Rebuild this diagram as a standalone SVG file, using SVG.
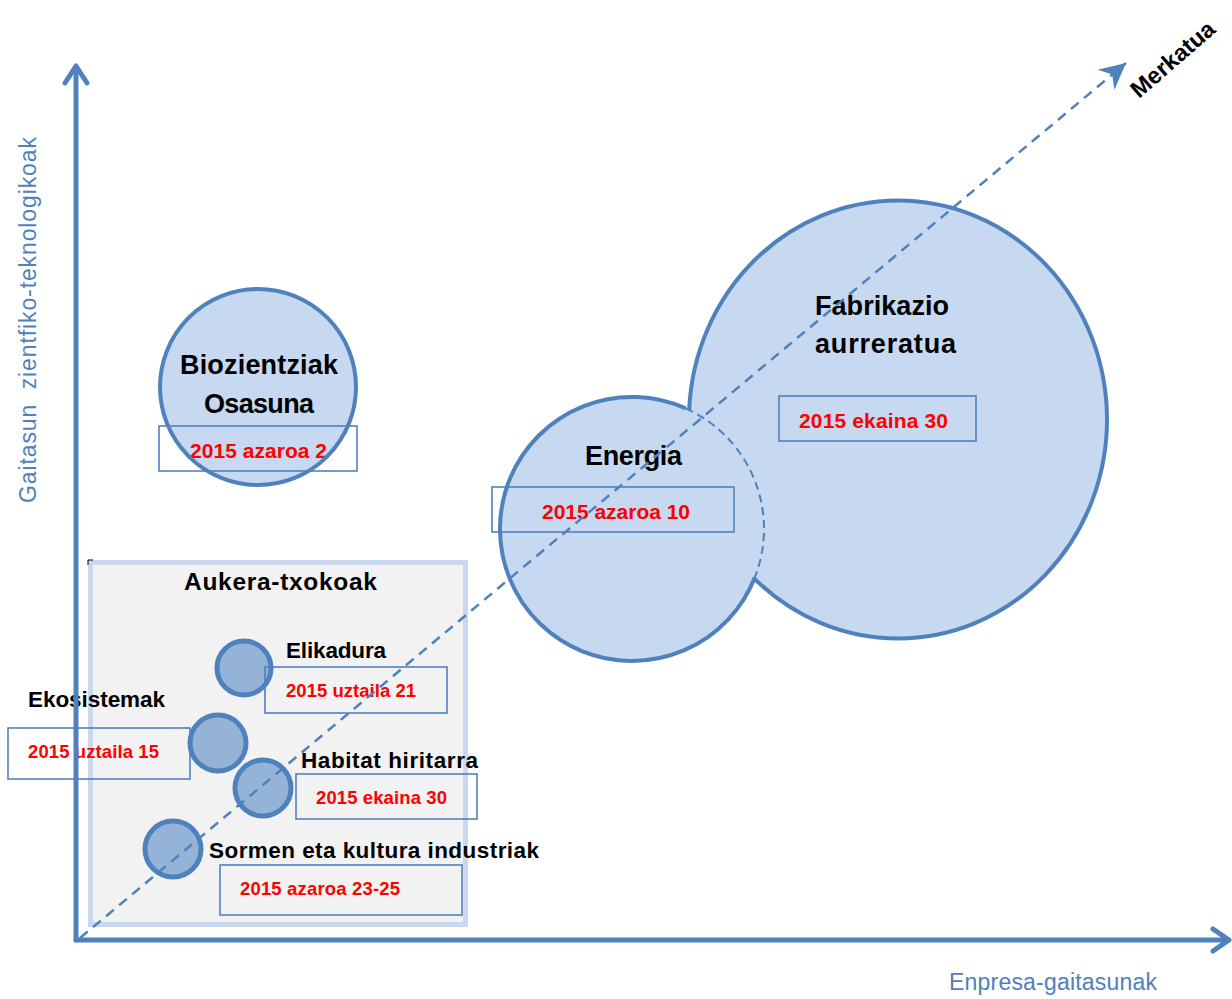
<svg xmlns="http://www.w3.org/2000/svg" width="1232" height="999" viewBox="0 0 1232 999">
<style>
text{font-family:"Liberation Sans",Arial,sans-serif}
.lb{font-weight:bold;fill:#000}
.rd{font-weight:bold;fill:#FF0000}
.ax{fill:#4F81BD;font-size:23px}
.big{fill:#C6D9F1}
.bigs{fill:none;stroke:#4F81BD;stroke-width:4}
.sm{fill:#95B3D7;stroke:#4F81BD;stroke-width:5}
.box{fill:none;stroke:#4F81BD;stroke-width:1.6}
.axis{fill:none;stroke:#4F81BD;stroke-width:5;stroke-linecap:round;stroke-linejoin:round}
</style>
<defs>
<marker id="stealth" markerUnits="userSpaceOnUse" markerWidth="40" markerHeight="40" refX="30" refY="20" orient="auto" viewBox="0 0 40 40">
<path d="M30,20 L4,7 L12,20 L4,33 Z" fill="#4F81BD"/>
</marker>
</defs>

<g id="aukera-txokoak">
<rect x="90.5" y="562.5" width="375" height="362" fill="#F2F2F2" stroke="#C9D8EF" stroke-width="5"/>
<path d="M88,565 V560 H93" fill="none" stroke="#000" stroke-width="1"/>
<text class="lb" x="184" y="590" font-size="24.5" textLength="193">Aukera-txokoak</text>
</g>

<g id="biozientziak">
<circle class="big" cx="258" cy="387" r="98"/>
<rect class="box" x="159" y="426" width="198" height="45"/>
<text class="lb" x="180" y="374" font-size="27" textLength="158">Biozientziak</text>
<text class="lb" x="204" y="413" font-size="27" textLength="110">Osasuna</text>
<text class="rd" x="190" y="458" font-size="21" textLength="137">2015 azaroa 2</text>
<circle class="bigs" cx="258" cy="387" r="98"/>
</g>

<g id="fabrikazio">
<ellipse class="big" cx="898" cy="419.5" rx="209" ry="219"/>
<ellipse class="bigs" cx="898" cy="419.5" rx="209" ry="219"/>
<text class="lb" x="815" y="315" font-size="27" textLength="134">Fabrikazio</text>
<text class="lb" x="815" y="353" font-size="27" textLength="141">aurreratua</text>
<rect class="box" x="779" y="396" width="197" height="45"/>
<text class="rd" x="799" y="428" font-size="21" textLength="149">2015 ekaina 30</text>
</g>

<g id="energia">
<circle class="big" cx="632" cy="529" r="132"/>
<path class="bigs" d="M754.8,577.4 A132,132 0 1 1 685.7,408.4"/>
<path d="M685.7,408.4 A132,132 0 0 1 754.8,577.4" fill="none" stroke="#4F81BD" stroke-width="2" stroke-dasharray="8,5"/>
<rect class="box" x="492" y="487" width="242" height="45"/>
<text class="lb" x="585" y="465" font-size="27" textLength="97">Energia</text>
<text class="rd" x="542" y="519" font-size="21" textLength="148">2015 azaroa 10</text>
</g>

<g id="elikadura">
<circle class="sm" cx="244" cy="668" r="27"/>
<rect class="box" x="265" y="667" width="182" height="46"/>
<text class="lb" x="286" y="658" font-size="22.5" textLength="100">Elikadura</text>
<text class="rd" x="286" y="697" font-size="18.5" textLength="130">2015 uztaila 21</text>
</g>

<g id="ekosistemak">
<rect class="box" x="8" y="728" width="182" height="51"/>
<text class="lb" x="28" y="707" font-size="22.5" textLength="137">Ekosistemak</text>
<text class="rd" x="28" y="758" font-size="18.5" textLength="131">2015 uztaila 15</text>
<circle class="sm" cx="218" cy="743" r="28"/>
</g>

<g id="habitat">
<circle class="sm" cx="263" cy="788" r="28"/>
<rect class="box" x="296" y="774" width="181" height="45"/>
<text class="lb" x="301" y="768" font-size="22.5" textLength="177">Habitat hiritarra</text>
<text class="rd" x="316" y="804" font-size="18.5" textLength="131">2015 ekaina 30</text>
</g>

<g id="sormen">
<circle class="sm" cx="173" cy="849" r="28"/>
<rect class="box" x="220" y="865" width="242" height="50"/>
<text class="lb" x="209" y="858" font-size="22.5" textLength="330">Sormen eta kultura industriak</text>
<text class="rd" x="240" y="895" font-size="18.5" textLength="160">2015 azaroa 23-25</text>
</g>

<g id="connectors">
<path class="axis" d="M76,940 V67"/>
<path class="axis" d="M65,83 L76,66 L87,83"/>
<path class="axis" d="M76,940 H1228"/>
<path class="axis" d="M1213,929 L1229,940 L1213,951"/>
<path d="M80,938 L1126,63" fill="none" stroke="#4F81BD" stroke-width="2.5" stroke-dasharray="10,7" marker-end="url(#stealth)"/>
</g>

<g id="labels">
<text class="ax" x="949" y="990" textLength="208">Enpresa-gaitasunak</text>
<text class="ax" transform="translate(36,503) rotate(-90)" x="0" y="0" font-size="22" textLength="366" xml:space="preserve">Gaitasun  zientfiko-teknologikoak</text>
<text class="lb" transform="translate(1139,99) rotate(-41)" x="0" y="0" font-size="23.5">Merkatua</text>
</g>
</svg>
